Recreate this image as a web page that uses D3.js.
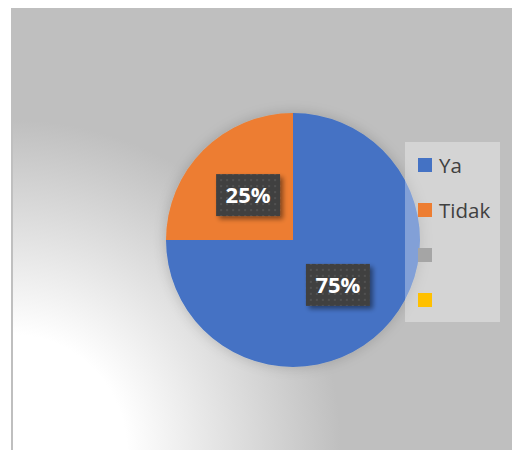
<!DOCTYPE html>
<html>
<head>
<meta charset="utf-8">
<script src="https://cdn.jsdelivr.net/npm/d3@7"></script>
<style>
  html, body { margin: 0; padding: 0; background: #ffffff; }
  svg { display: block; }
</style>
</head>
<body>
<svg id="chart" width="512" height="450"></svg>
<script>
// Survey answers and their shares
const categories = ["Ya", "Tidak", "", ""];
const values = [75, 25, 0, 0];
const colors = ["#4472c4", "#ed7d31", "#a5a5a5", "#ffc000"];

const svg = d3.select("#chart");
const W = 512, H = 450;
const defs = svg.append("defs");

// Background: grey area with a white glow from the lower-left corner
const bg = defs.append("radialGradient")
  .attr("id", "bgGlow")
  .attr("gradientUnits", "userSpaceOnUse")
  .attr("cx", 11).attr("cy", 450).attr("r", 330);
bg.append("stop").attr("offset", "0.35").attr("stop-color", "#ffffff");
bg.append("stop").attr("offset", "1").attr("stop-color", "#bfbfbf");

// Soft shadow under the pie
const pieShadow = defs.append("filter").attr("id", "pieShadow")
  .attr("x", "-30%").attr("y", "-30%").attr("width", "160%").attr("height", "160%");
pieShadow.append("feGaussianBlur").attr("in", "SourceAlpha").attr("stdDeviation", 7).attr("result", "b");
pieShadow.append("feComponentTransfer").attr("in", "b").attr("result", "s")
  .append("feFuncA").attr("type", "linear").attr("slope", 0.18);
const pm = pieShadow.append("feMerge");
pm.append("feMergeNode").attr("in", "s");
pm.append("feMergeNode").attr("in", "SourceGraphic");

// Shadow under the value labels
const lblShadow = defs.append("filter").attr("id", "lblShadow")
  .attr("x", "-30%").attr("y", "-30%").attr("width", "160%").attr("height", "160%");
lblShadow.append("feGaussianBlur").attr("in", "SourceAlpha").attr("stdDeviation", 2.5).attr("result", "b");
lblShadow.append("feOffset").attr("in", "b").attr("dx", 3).attr("dy", 3).attr("result", "o");
lblShadow.append("feComponentTransfer").attr("in", "o").attr("result", "s")
  .append("feFuncA").attr("type", "linear").attr("slope", 0.45);
const lm = lblShadow.append("feMerge");
lm.append("feMergeNode").attr("in", "s");
lm.append("feMergeNode").attr("in", "SourceGraphic");

// Dotted texture for the label boxes
const dots = defs.append("pattern").attr("id", "dots")
  .attr("patternUnits", "userSpaceOnUse").attr("width", 6).attr("height", 6);
dots.append("rect").attr("width", 6).attr("height", 6).attr("fill", "#404040");
dots.append("circle").attr("cx", 3).attr("cy", 3).attr("r", 1.1).attr("fill", "#555555");

// Chart area
svg.append("rect").attr("x", 11).attr("y", 8).attr("width", W - 11).attr("height", H - 8)
  .attr("fill", "url(#bgGlow)");
svg.append("line").attr("x1", 12).attr("x2", 12).attr("y1", 8).attr("y2", H)
  .attr("stroke", "#bfbfbf").attr("stroke-width", 2);

// Pie
const cx = 293, cy = 240, R = 127;
const pie = d3.pie().sort(null).value(d => d.value);
const arcs = pie(categories.map((c, i) => ({ name: c, value: values[i], color: colors[i] })));
const arc = d3.arc().innerRadius(0).outerRadius(R);

const g = svg.append("g").attr("transform", `translate(${cx},${cy})`);
g.append("g").attr("filter", "url(#pieShadow)")
  .selectAll("path").data(arcs.filter(d => d.data.value > 0)).join("path")
  .attr("d", arc).attr("fill", d => d.data.color);

// Value labels in dark boxes at the slice centroids
const total = d3.sum(values);
const labels = g.selectAll("g.lbl").data(arcs.filter(d => d.data.value > 0)).join("g")
  .attr("class", "lbl")
  .attr("transform", d => { const [x, y] = arc.centroid(d); return `translate(${x},${y})`; });
labels.append("rect")
  .attr("x", -32).attr("y", -21).attr("width", 64).attr("height", 42)
  .attr("fill", "url(#dots)").attr("filter", "url(#lblShadow)");
labels.append("text")
  .attr("text-anchor", "middle").attr("dy", "0.36em")
  .attr("font-family", "'Open Sans', 'Noto Sans', sans-serif")
  .attr("font-weight", "bold").attr("font-size", 22).attr("fill", "#ffffff")
  .text(d => d3.format(".0%")(d.data.value / total));

// Legend
const lg = svg.append("g").attr("transform", "translate(405,142)");
lg.append("rect").attr("width", 95).attr("height", 180)
  .attr("fill", "#ffffff").attr("fill-opacity", 0.33);
const items = lg.selectAll("g.item").data(categories).join("g")
  .attr("class", "item")
  .attr("transform", (d, i) => `translate(13,${16 + i * 45})`);
items.append("rect").attr("width", 14).attr("height", 14)
  .attr("fill", (d, i) => colors[i]);
items.append("text").attr("x", 21).attr("y", 14.5)
  .attr("font-family", "'Open Sans', 'Noto Sans', sans-serif")
  .attr("font-size", 20.5).attr("fill", "#404040")
  .text(d => d);
</script>
</body>
</html>
